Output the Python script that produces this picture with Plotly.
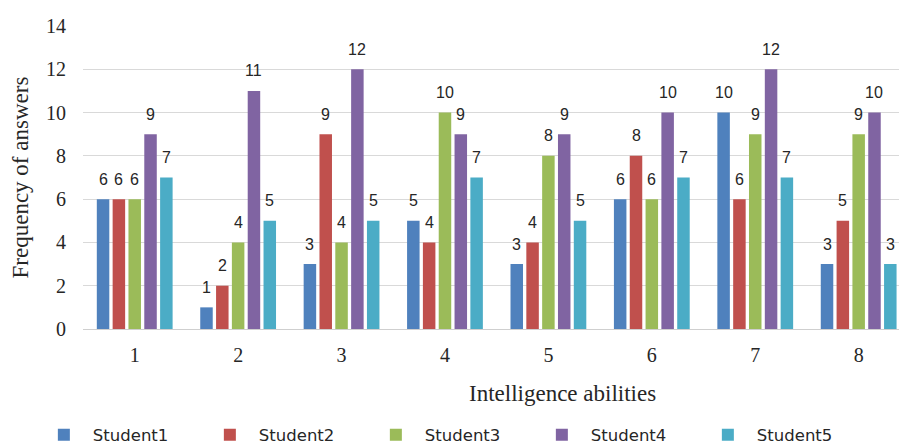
import plotly.graph_objects as go

# Intelligence abilities (x categories) and answer counts per student
abilities = ["1", "2", "3", "4", "5", "6", "7", "8"]
student1 = [6, 1, 3, 5, 3, 6, 10, 3]
student2 = [6, 2, 9, 4, 4, 8, 6, 5]
student3 = [6, 4, 4, 10, 8, 6, 9, 9]
student4 = [9, 11, 12, 9, 9, 10, 12, 10]
student5 = [7, 5, 5, 7, 5, 7, 7, 3]
y_ticks = [0, 2, 4, 6, 8, 10, 12, 14]

series = [
    ("Student1", student1, "#4F81BD"),
    ("Student2", student2, "#C0504D"),
    ("Student3", student3, "#9BBB59"),
    ("Student4", student4, "#8064A2"),
    ("Student5", student5, "#4BACC6"),
]

BARGAP = 0.235
BARGROUPGAP = 0.21
SERIF = "Liberation Serif, Times New Roman, serif"

fig = go.Figure()
for name, vals, color in series:
    fig.add_trace(go.Bar(
        name=name, x=abilities, y=vals,
        marker=dict(color=color, line=dict(width=0)),
    ))

# value labels above each bar, placed at the bar's slot within its group
slot = (1 - BARGAP) / len(series)
annotations = []
for j, (name, vals, color) in enumerate(series):
    for i, v in enumerate(vals):
        annotations.append(dict(
            x=i + (j - (len(series) - 1) / 2) * slot, y=v,
            xref="x", yref="y", text=str(v), showarrow=False,
            yanchor="middle", yshift=20,
            font=dict(family="Liberation Sans, Arial, sans-serif", size=16, color="#262626"),
        ))

# axis titles
annotations.append(dict(
    text="Intelligence abilities", xref="paper", yref="paper",
    x=0.588, y=-0.212, xanchor="center", yanchor="middle", showarrow=False,
    font=dict(family=SERIF, size=23, color="#262626"),
))
annotations.append(dict(
    text="Frequency of answers", xref="paper", yref="paper",
    x=-0.076, y=0.5, xanchor="center", yanchor="middle", textangle=-90,
    showarrow=False, font=dict(family=SERIF, size=23, color="#262626"),
))

fig.update_layout(
    width=899, height=446,
    margin=dict(l=83, r=0, t=26, b=117, autoexpand=False),
    paper_bgcolor="white", plot_bgcolor="white",
    barmode="group", bargap=BARGAP, bargroupgap=BARGROUPGAP,
    annotations=annotations,
    showlegend=True,
    legend=dict(
        orientation="h", x=-0.059, xanchor="left", y=-0.292, yanchor="top",
        entrywidth=103, entrywidthmode="pixels", itemwidth=48,
        font=dict(family="DejaVu Sans, Verdana, sans-serif", size=16.5, color="#262626"),
        bgcolor="rgba(0,0,0,0)", traceorder="normal",
    ),
    xaxis=dict(
        type="category", range=[-0.5, 7.39],
        showgrid=False, showline=False, zeroline=False,
        ticks="", ticklabelstandoff=12,
        tickfont=dict(family=SERIF, size=20, color="#262626"),
    ),
    yaxis=dict(
        range=[0, 14], tickvals=y_ticks,
        showgrid=True, gridcolor="#d9d9d9", gridwidth=1,
        zeroline=True, zerolinecolor="#cfcfcf", zerolinewidth=1,
        showline=False, ticks="", ticklabelstandoff=16,
        tickfont=dict(family=SERIF, size=20, color="#262626"),
    ),
)

fig.write_html("out.html")
